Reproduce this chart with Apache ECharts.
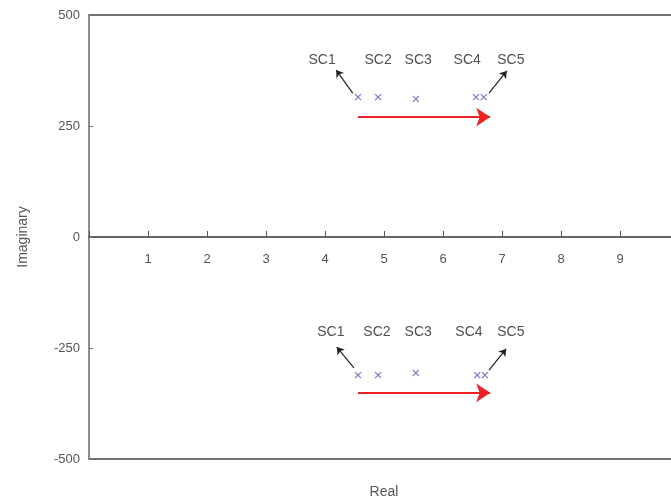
<!DOCTYPE html>
<html><head><meta charset="utf-8">
<script src="https://cdn.jsdelivr.net/npm/echarts@6/dist/echarts.min.js"></script>
<style>html,body{margin:0;padding:0;background:#fff}#c{width:671px;height:502px}</style>
</head><body><div id="c"></div>
<script>
// Pole positions (real, imaginary)
const names = ['SC1','SC2','SC3','SC4','SC5'];
const realUpper = [4.56, 4.90, 5.54, 6.56, 6.69];
const imagUpper = [315, 315, 311, 315, 315];
const realLower = [4.56, 4.90, 5.54, 6.58, 6.71];
const imagLower = [-311, -311, -306, -311, -311];
// Label anchor positions
const labelRealUpper = [3.95, 4.90, 5.58, 6.41, 7.15];
const labelImagUpper = [399, 399, 399, 399, 399];
const labelRealLower = [4.10, 4.88, 5.58, 6.44, 7.15];
const labelImagLower = [-214, -214, -214, -214, -214];
// Black pointer arrows [x1,y1,x2,y2]
const pointerArrows = [
  [4.47, 324, 4.19, 376],
  [6.78, 324, 7.08, 374],
  [4.49, -295, 4.20, -248],
  [6.78, -300, 7.07, -252]
];
// Red direction arrows [x1,y1,x2,y2]
const trendArrows = [
  [4.56, 270, 6.80, 270],
  [4.56, -351, 6.80, -351]
];
const xTicks = [0,1,2,3,4,5,6,7,8,9,10];
const yTicks = [-500,-250,0,250,500];

const chart = echarts.init(document.getElementById('c'));
const font = 'Liberation Sans, Arial, sans-serif';
const crossPath = 'path://M0,0L10,10M10,0L0,10';
chart.setOption({
  animation: false,
  backgroundColor: '#fff',
  grid: {left: 89, top: 15, width: 590, height: 444, outerBoundsMode: 'none', containLabel: false,
    show: true, borderColor: '#444', borderWidth: 1.5, backgroundColor: 'transparent'},
  xAxis: {
    type: 'value', min: xTicks[0], max: xTicks[xTicks.length-1], interval: 1,
    position: 'bottom', offset: -222,
    name: 'Real', nameLocation: 'middle', nameGap: 248,
    nameTextStyle: {fontFamily: font, fontSize: 14, color: '#555'},
    axisLine: {onZero: false, lineStyle: {color: '#333', width: 1.5}},
    axisTick: {inside: true, length: 6, lineStyle: {color: '#555'}},
    axisLabel: {fontFamily: font, fontSize: 13, color: '#555', margin: 16,
      formatter: v => (v === 0 || v === 10) ? '' : String(v)},
    splitLine: {show: false}
  },
  yAxis: {
    type: 'value', min: yTicks[0], max: yTicks[yTicks.length-1], interval: 250,
    name: 'Imaginary', nameLocation: 'middle', nameGap: 59, nameRotate: 90,
    nameTextStyle: {fontFamily: font, fontSize: 14, color: '#555'},
    axisLine: {onZero: false, lineStyle: {color: '#999', width: 1.5}},
    axisTick: {inside: true, length: 4, lineStyle: {color: '#777'}},
    axisLabel: {fontFamily: font, fontSize: 13, color: '#555', margin: 9},
    splitLine: {show: false}
  },
  series: [
    {
      type: 'scatter', symbol: crossPath, symbolSize: 6,
      itemStyle: {color: 'none', borderColor: '#5555bb', borderWidth: 1.2},
      data: realUpper.map((x,i) => [x, imagUpper[i]]).concat(realLower.map((x,i) => [x, imagLower[i]])),
      z: 5
    },
    {
      type: 'scatter', symbolSize: 0, silent: true,
      label: {show: true, position: 'inside', fontFamily: font, fontSize: 14, color: '#222',
        formatter: p => p.data[2]},
      data: labelRealUpper.map((x,i) => [x, labelImagUpper[i], names[i]])
        .concat(labelRealLower.map((x,i) => [x, labelImagLower[i], names[i]]))
    },
    {
      type: 'lines', coordinateSystem: 'cartesian2d', silent: true,
      symbol: ['none', 'arrow'], symbolSize: [0, 7],
      lineStyle: {color: '#222', width: 1.2, opacity: 1},
      data: pointerArrows.map(a => ({coords: [[a[0], a[1]], [a[2], a[3]]]}))
    },
    {
      type: 'lines', coordinateSystem: 'cartesian2d', silent: true,
      symbol: ['none', 'arrow'], symbolSize: [0, 14],
      lineStyle: {color: '#ee2222', width: 2, opacity: 1},
      data: trendArrows.map(a => ({coords: [[a[0], a[1]], [a[2], a[3]]]}))
    }
  ]
});
</script></body></html>
